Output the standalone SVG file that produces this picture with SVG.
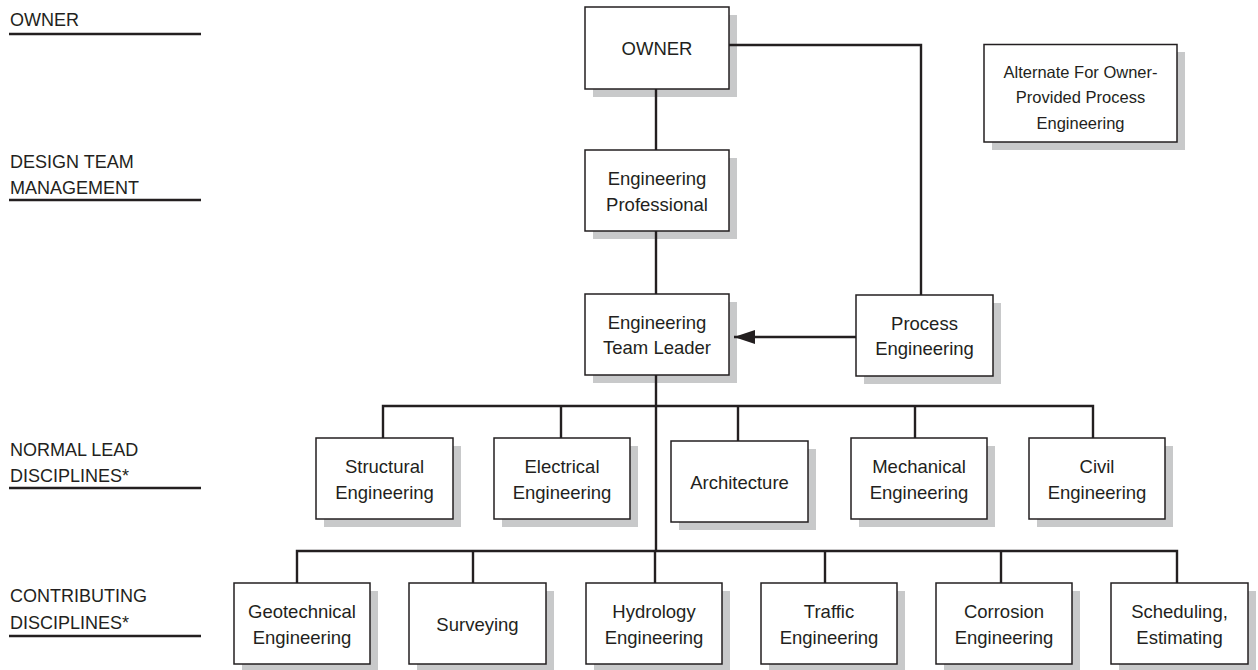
<svg xmlns="http://www.w3.org/2000/svg" width="1258" height="670" viewBox="0 0 1258 670">
  <style>
    .lbl { font-family: "Liberation Sans", Arial, sans-serif; font-size: 18px; fill: #231f20; }
    .rule { stroke: #231f20; stroke-width: 2.4; fill: none; }
    .shadow { fill: #c8c9ca; stroke: none; }
    .box { fill: #ffffff; stroke: #231f20; stroke-width: 1.5; }
    .t { font-family: "Liberation Sans", Arial, sans-serif; font-size: 18.5px; fill: #231f20; text-anchor: middle; }
    .ts { font-family: "Liberation Sans", Arial, sans-serif; font-size: 16.5px; fill: #231f20; text-anchor: middle; }
    .wire { stroke: #231f20; stroke-width: 2.4; fill: none; }
  </style>
  <defs>
    <marker id="arrow" markerUnits="userSpaceOnUse" markerWidth="22" markerHeight="14" refX="21" refY="7" orient="auto">
      <path d="M0,0 L21,7 L0,14 Z" fill="#231f20"/>
    </marker>
  </defs>
  <rect width="1258" height="670" fill="#ffffff"/>

  <!-- level captions on the left -->
  <g id="levels">
    <text class="lbl" x="10" y="26">OWNER</text>
    <line class="rule" x1="9" y1="34" x2="201" y2="34"/>
    <text class="lbl" x="10" y="168">DESIGN TEAM</text>
    <text class="lbl" x="10" y="194">MANAGEMENT</text>
    <line class="rule" x1="9" y1="200" x2="201" y2="200"/>
    <text class="lbl" x="10" y="456">NORMAL LEAD</text>
    <text class="lbl" x="10" y="482">DISCIPLINES*</text>
    <line class="rule" x1="9" y1="488" x2="201" y2="488"/>
    <text class="lbl" x="10" y="602">CONTRIBUTING</text>
    <text class="lbl" x="10" y="629">DISCIPLINES*</text>
    <line class="rule" x1="9" y1="636" x2="201" y2="636"/>
  </g>

  <!-- shadows sit under everything -->
  <g id="shadows">
    <rect class="shadow" x="593" y="15" width="144" height="82"/>
    <rect class="shadow" x="593" y="158" width="144" height="81"/>
    <rect class="shadow" x="593" y="302" width="144" height="81"/>
    <rect class="shadow" x="864" y="303" width="137" height="81"/>
    <rect class="shadow" x="992" y="52" width="193" height="98"/>
    <rect class="shadow" x="324" y="446" width="137" height="81"/>
    <rect class="shadow" x="502" y="446" width="136" height="81"/>
    <rect class="shadow" x="679" y="449" width="137" height="81"/>
    <rect class="shadow" x="859" y="446" width="136" height="81"/>
    <rect class="shadow" x="1037" y="446" width="136" height="81"/>
    <rect class="shadow" x="242" y="591" width="136" height="81"/>
    <rect class="shadow" x="417" y="591" width="137" height="81"/>
    <rect class="shadow" x="594" y="591" width="136" height="81"/>
    <rect class="shadow" x="769" y="591" width="136" height="81"/>
    <rect class="shadow" x="944" y="591" width="136" height="81"/>
    <rect class="shadow" x="1119" y="591" width="137" height="81"/>
  </g>

  <!-- connectors -->
  <g id="connectors">
    <path class="wire" d="M656,89 V150"/>
    <path class="wire" d="M656,231 V294"/>
    <path class="wire" d="M729,45 H921 V295"/>
    <path class="wire" d="M856,337 H734" marker-end="url(#arrow)"/>
    <path class="wire" d="M656,375 V551"/>
    <path class="wire" d="M383,438 V406 H1093 V438"/>
    <path class="wire" d="M561,406 V438"/>
    <path class="wire" d="M738,406 V441"/>
    <path class="wire" d="M915,406 V438"/>
    <path class="wire" d="M297,583 V551 H1177 V583"/>
    <path class="wire" d="M473,551 V583"/>
    <path class="wire" d="M655,551 V583"/>
    <path class="wire" d="M825,551 V583"/>
    <path class="wire" d="M1001,551 V583"/>
  </g>

  <g id="owner">
    <rect class="box" x="585" y="7" width="144" height="82"/>
    <text class="t" x="657" y="55">OWNER</text>
  </g>
  <g id="engineering-professional">
    <rect class="box" x="585" y="150" width="144" height="81"/>
    <text class="t" x="657" y="185">Engineering</text>
    <text class="t" x="657" y="211">Professional</text>
  </g>
  <g id="engineering-team-leader">
    <rect class="box" x="585" y="294" width="144" height="81"/>
    <text class="t" x="657" y="329">Engineering</text>
    <text class="t" x="657" y="354">Team Leader</text>
  </g>
  <g id="process-engineering">
    <rect class="box" x="856" y="295" width="137" height="81"/>
    <text class="t" x="924.5" y="330">Process</text>
    <text class="t" x="924.5" y="355">Engineering</text>
  </g>
  <g id="alternate-note">
    <rect class="box" x="984" y="44.5" width="193" height="97.5"/>
    <text class="ts" x="1080.5" y="77.5">Alternate For Owner-</text>
    <text class="ts" x="1080.5" y="103">Provided Process</text>
    <text class="ts" x="1080.5" y="128.5">Engineering</text>
  </g>

  <g id="structural-engineering">
    <rect class="box" x="316" y="438" width="137" height="81"/>
    <text class="t" x="384.5" y="473">Structural</text>
    <text class="t" x="384.5" y="499">Engineering</text>
  </g>
  <g id="electrical-engineering">
    <rect class="box" x="494" y="438" width="136" height="81"/>
    <text class="t" x="562" y="473">Electrical</text>
    <text class="t" x="562" y="499">Engineering</text>
  </g>
  <g id="architecture">
    <rect class="box" x="671" y="441" width="137" height="81"/>
    <text class="t" x="739.5" y="489">Architecture</text>
  </g>
  <g id="mechanical-engineering">
    <rect class="box" x="851" y="438" width="136" height="81"/>
    <text class="t" x="919" y="473">Mechanical</text>
    <text class="t" x="919" y="499">Engineering</text>
  </g>
  <g id="civil-engineering">
    <rect class="box" x="1029" y="438" width="136" height="81"/>
    <text class="t" x="1097" y="473">Civil</text>
    <text class="t" x="1097" y="499">Engineering</text>
  </g>

  <g id="geotechnical-engineering">
    <rect class="box" x="234" y="583" width="136" height="81"/>
    <text class="t" x="302" y="618">Geotechnical</text>
    <text class="t" x="302" y="644">Engineering</text>
  </g>
  <g id="surveying">
    <rect class="box" x="409" y="583" width="137" height="81"/>
    <text class="t" x="477.5" y="631">Surveying</text>
  </g>
  <g id="hydrology-engineering">
    <rect class="box" x="586" y="583" width="136" height="81"/>
    <text class="t" x="654" y="618">Hydrology</text>
    <text class="t" x="654" y="644">Engineering</text>
  </g>
  <g id="traffic-engineering">
    <rect class="box" x="761" y="583" width="136" height="81"/>
    <text class="t" x="829" y="618">Traffic</text>
    <text class="t" x="829" y="644">Engineering</text>
  </g>
  <g id="corrosion-engineering">
    <rect class="box" x="936" y="583" width="136" height="81"/>
    <text class="t" x="1004" y="618">Corrosion</text>
    <text class="t" x="1004" y="644">Engineering</text>
  </g>
  <g id="scheduling-estimating">
    <rect class="box" x="1111" y="583" width="137" height="81"/>
    <text class="t" x="1179.5" y="618">Scheduling,</text>
    <text class="t" x="1179.5" y="644">Estimating</text>
  </g>
</svg>
